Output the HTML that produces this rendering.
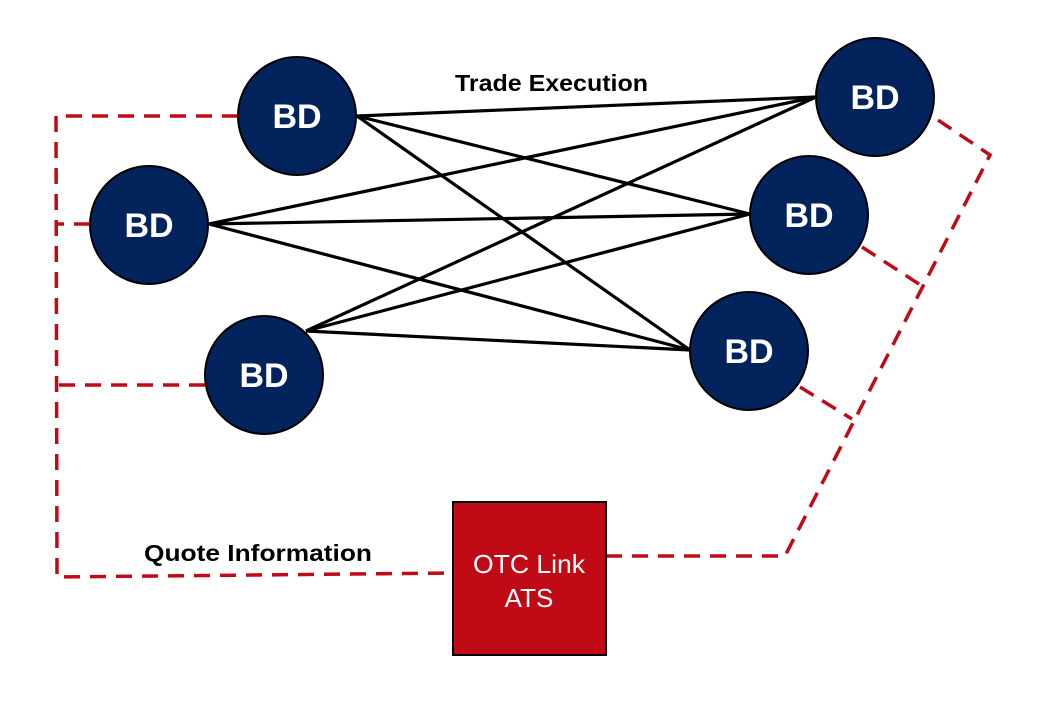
<!DOCTYPE html>
<html><head><meta charset="utf-8"><style>
html,body{margin:0;padding:0;background:#fff;}
svg{display:block}
text{font-family:"Liberation Sans",sans-serif;font-weight:bold}
</style></head><body>
<svg width="1044" height="710" viewBox="0 0 1044 710" xmlns="http://www.w3.org/2000/svg">
<g stroke="#000" stroke-width="3.2" fill="none">
<line x1="357" y1="116" x2="816" y2="97"/>
<line x1="357" y1="116" x2="750" y2="214"/>
<line x1="357" y1="116" x2="690" y2="350"/>
<line x1="209" y1="224" x2="816" y2="97"/>
<line x1="209" y1="224" x2="750" y2="214"/>
<line x1="209" y1="224" x2="690" y2="350"/>
<line x1="306" y1="331" x2="816" y2="97"/>
<line x1="306" y1="331" x2="750" y2="214"/>
<line x1="306" y1="331" x2="690" y2="350"/>
</g>
<g stroke="#c00b16" stroke-width="3.5" fill="none" stroke-dasharray="16,10">
<polyline points="238,116 56,116 57,577 453,573"/>
<line x1="90" y1="224" x2="58" y2="224"/>
<line x1="205" y1="385" x2="58" y2="385"/>
<polyline points="606,556 785,556 990,155 935,118"/>
<line x1="862" y1="247" x2="922" y2="286"/>
<line x1="800" y1="387" x2="852" y2="419"/>
</g>
<g fill="#03235c" stroke="#000" stroke-width="2">
<circle cx="297" cy="116" r="59"/>
<circle cx="149" cy="225" r="59"/>
<circle cx="264" cy="375" r="59"/>
<circle cx="875" cy="97" r="59"/>
<circle cx="809" cy="215" r="59"/>
<circle cx="749" cy="351" r="59"/>
</g>
<g fill="#fff" font-size="34" text-anchor="middle">
<text x="297" y="128">BD</text>
<text x="149" y="237">BD</text>
<text x="264" y="387">BD</text>
<text x="875" y="109">BD</text>
<text x="809" y="227">BD</text>
<text x="749" y="363">BD</text>
</g>
<rect x="453" y="502" width="153" height="153" fill="#c00b16" stroke="#000" stroke-width="2"/>
<text x="473" y="573" font-size="26" textLength="112" lengthAdjust="spacingAndGlyphs" fill="#fff" style="font-weight:normal">OTC Link</text>
<text x="529" y="607" font-size="26" text-anchor="middle" fill="#fff" style="font-weight:normal">ATS</text>
<text x="455" y="91" font-size="23" textLength="193" lengthAdjust="spacingAndGlyphs" fill="#000">Trade Execution</text>
<text x="144" y="561" font-size="23" textLength="228" lengthAdjust="spacingAndGlyphs" fill="#000">Quote Information</text>
</svg>
</body></html>
